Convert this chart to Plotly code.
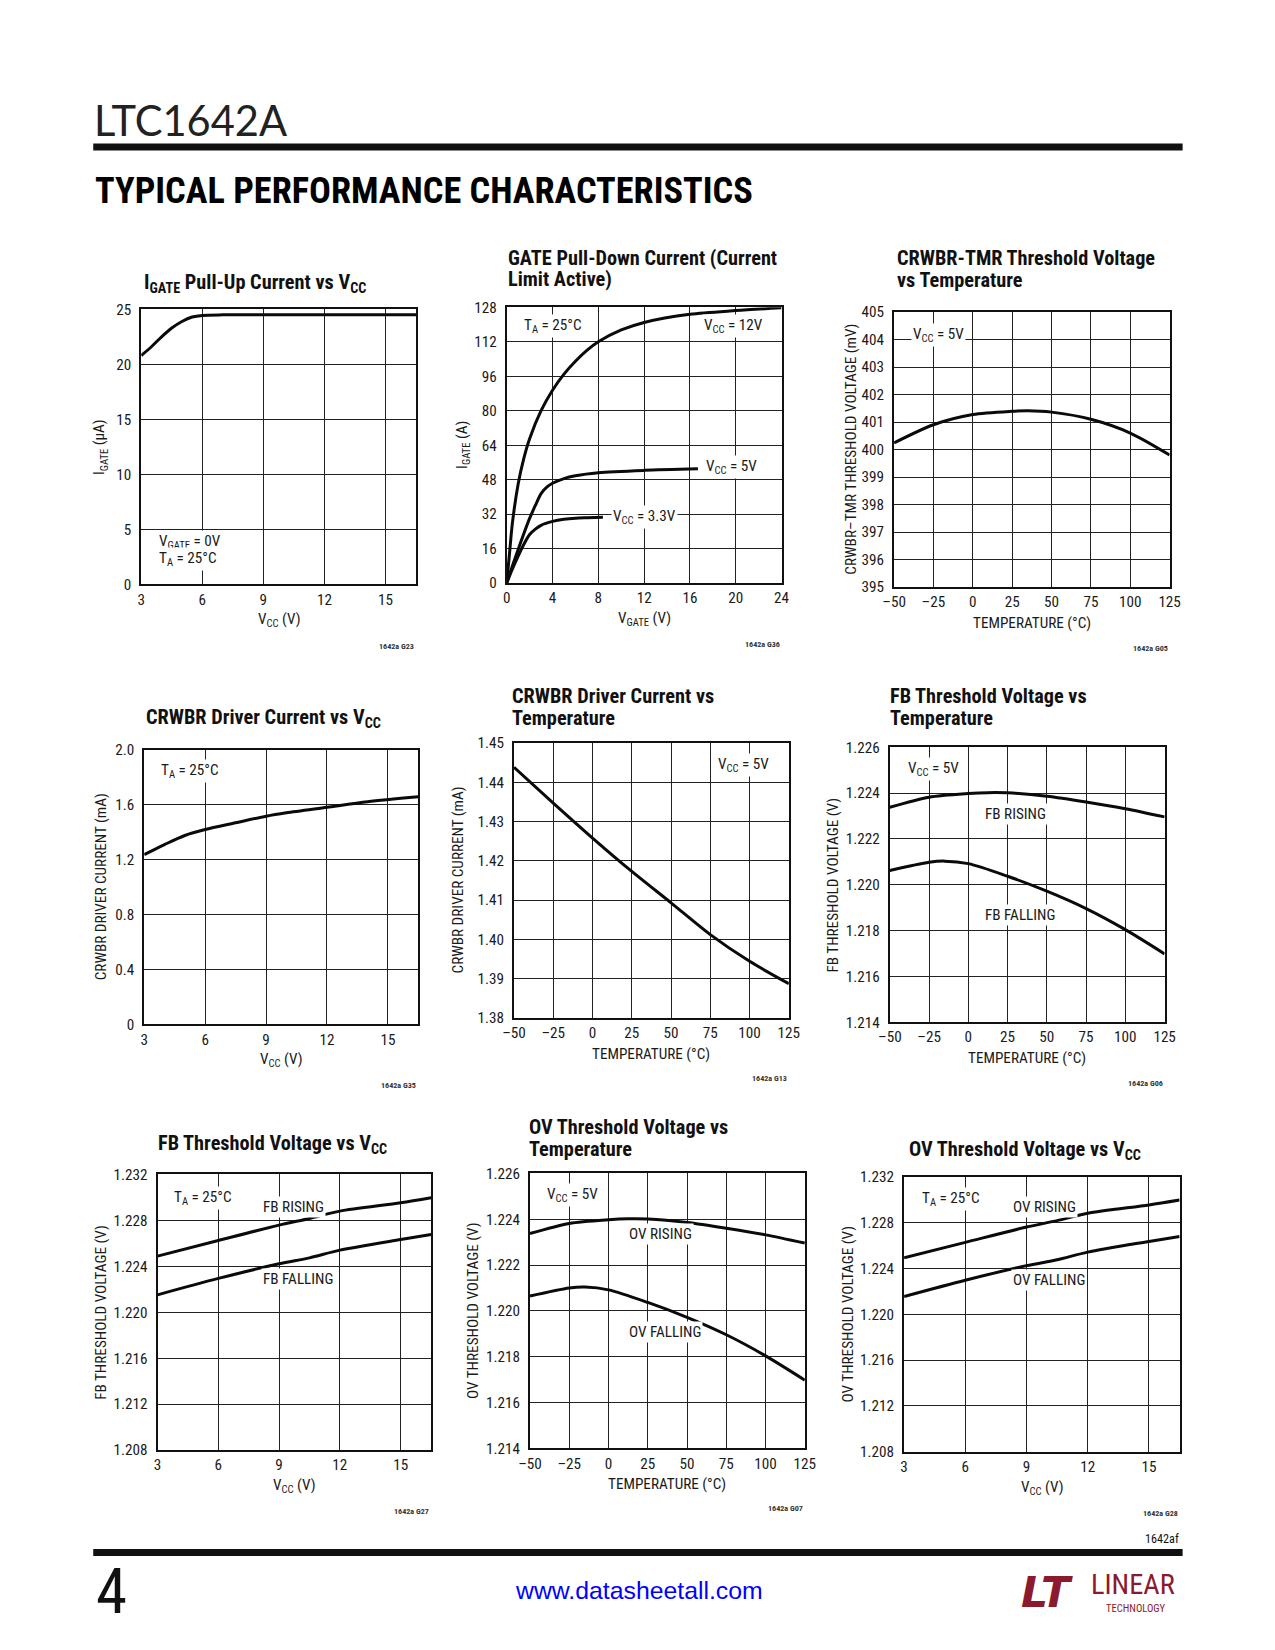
import plotly.graph_objects as go

# ---------------- DATA ----------------
# 1) IGATE pull-up current vs VCC
c1_vcc = [3, 3.5, 4, 4.5, 5, 5.5, 6, 7, 9, 12, 15, 16.5]
c1_igate = [20.8, 21.6, 22.5, 23.3, 23.9, 24.3, 24.45, 24.5, 24.5, 24.5, 24.5, 24.5]

# 2) GATE pull-down current
c2_vg_12 = [0, 0.25, 0.5, 1.0, 1.5, 2, 3, 4, 5, 6, 7, 8, 10, 12, 16, 20, 24]
c2_i_12 = [0, 14, 28, 46, 58, 67, 80, 89.5, 97, 103, 108, 112, 117.5, 121, 124.8, 126.5, 127.8]
c2_vg_5 = [0, 0.5, 1, 1.5, 2, 2.5, 3, 3.5, 4, 5, 6, 8, 12, 16.7]
c2_i_5 = [0, 8, 15.5, 23, 30, 36, 41.5, 44.5, 46.3, 48.5, 49.8, 51.2, 52.3, 53]
c2_vg_33 = [0, 0.5, 1, 1.5, 2, 2.5, 3, 4, 5, 6, 7, 8.4]
c2_i_33 = [0, 6.5, 12.5, 18, 22.5, 25, 26.8, 28.6, 29.6, 30.1, 30.3, 30.5]

# 3) CRWBR-TMR threshold vs temperature
c3_temp = [-50, -25, 0, 25, 35, 50, 75, 100, 125]
c3_mv = [400.24, 400.9, 401.27, 401.39, 401.41, 401.36, 401.1, 400.6, 399.8]

# 4) CRWBR driver current vs VCC
c4_vcc = [3, 4, 5, 6, 7.5, 9, 10, 12, 14, 16.5]
c4_ma = [1.236, 1.309, 1.375, 1.418, 1.467, 1.515, 1.54, 1.58, 1.62, 1.656]

# 5) CRWBR driver current vs temperature
c5_temp = [-50, -25, 0, 25, 50, 75, 100, 125]
c5_ma = [1.4438, 1.4347, 1.4258, 1.4173, 1.4093, 1.4012, 1.3944, 1.3887]

# 6) FB threshold vs temperature
c6_temp_r = [-50, -25, 0, 12.5, 25, 50, 75, 100, 125]
c6_rise = [1.22338, 1.22382, 1.22398, 1.22402, 1.22401, 1.22386, 1.22361, 1.22332, 1.22296]
c6_temp_f = [-50, -25, -15, 0, 25, 50, 75, 100, 125]
c6_fall = [1.22062, 1.22098, 1.22103, 1.22092, 1.22037, 1.21972, 1.21896, 1.21804, 1.21698]

# 7) FB threshold vs VCC
c7_vcc = [3, 6, 9, 10.5, 12, 15, 16.5]
c7_rise = [1.22489, 1.22625, 1.22759, 1.22817, 1.22881, 1.22953, 1.22997]
c7_fall = [1.22152, 1.22295, 1.22422, 1.22474, 1.22541, 1.22634, 1.22678]

# 8) OV threshold vs temperature
c8_temp_r = [-50, -25, 0, 12.5, 25, 50, 75, 100, 125]
c8_rise = [1.22338, 1.22382, 1.22398, 1.22402, 1.22401, 1.22386, 1.22361, 1.22332, 1.22296]
c8_temp_f = [-50, -25, -15, 0, 25, 50, 75, 100, 125]
c8_fall = [1.22065, 1.22100, 1.22104, 1.22092, 1.22037, 1.21972, 1.21896, 1.21804, 1.21698]

# 9) OV threshold vs VCC
c9_vcc = [3, 6, 9, 10.5, 12, 15, 16.5]
c9_rise = [1.22493, 1.22628, 1.22762, 1.22818, 1.22882, 1.22955, 1.22998]
c9_fall = [1.22156, 1.22298, 1.22425, 1.22476, 1.22543, 1.22636, 1.22680]

# tick labels
vcc_ticks = [3, 6, 9, 12, 15]
vcc_ticktext = ["3", "6", "9", "12", "15"]
temp_ticks = [-50, -25, 0, 25, 50, 75, 100, 125]
temp_ticktext = ["\u201350", "\u201325", "0", "25", "50", "75", "100", "125"]
vgate_ticks = [0, 4, 8, 12, 16, 20, 24]
c1_yticks = [0, 5, 10, 15, 20, 25]
c2_yticks = [0, 16, 32, 48, 64, 80, 96, 112, 128]
c3_yticks = [395, 396, 397, 398, 399, 400, 401, 402, 403, 404, 405]
c4_yticks = [0, 0.4, 0.8, 1.2, 1.6, 2.0]
c4_yticktext = ["0", "0.4", "0.8", "1.2", "1.6", "2.0"]
c5_yticks = [1.38, 1.39, 1.40, 1.41, 1.42, 1.43, 1.44, 1.45]
c5_yticktext = ["1.38", "1.39", "1.40", "1.41", "1.42", "1.43", "1.44", "1.45"]
c6_yticks = [1.214, 1.216, 1.218, 1.220, 1.222, 1.224, 1.226]
c6_yticktext = ["1.214", "1.216", "1.218", "1.220", "1.222", "1.224", "1.226"]
c7_yticks = [1.208, 1.212, 1.216, 1.220, 1.224, 1.228, 1.232]
c7_yticktext = ["1.208", "1.212", "1.216", "1.220", "1.224", "1.228", "1.232"]

# ---------------- LAYOUT HELPERS ----------------
PAGE_W, PAGE_H = 1275, 1650
MARGIN = 8                      # default body margin of the page
W, H = PAGE_W - 2 * MARGIN, PAGE_H - 2 * MARGIN
# measured mapping page-pixel -> photographed pixel (compensated below)
AX, BX = 0.9823, 11.85
AY, BY = 0.9892, 7.67
FS = 1.014                      # font compensation
FONT = ("Noto Sans ExtraCondensed, Noto Sans Condensed, Roboto Condensed, "
        "Liberation Sans Narrow, Arial Narrow, Roboto, sans-serif")
INK = "#1a1a1a"


def px(x):
    return ((x - BX) / AX - MARGIN) / W


def py(y):
    return 1 - ((y - BY) / AY - MARGIN) / H


def fs(s):
    return round(s * FS, 1)


charts = [
    dict(box=(141, 308, 416, 583), xr=[3, 16.5], xt=vcc_ticks, xtt=vcc_ticktext,
         yr=[0, 25], yt=c1_yticks, ytt=[str(v) for v in c1_yticks],
         series=[(c1_vcc, c1_igate)],
         title=["I<sub>GATE</sub> Pull-Up Current vs V<sub>CC</sub>"], tx=142, ty=[282],
         xtitle="V<sub>CC</sub> (V)", ytitle="I<sub>GATE</sub> (\u00b5A)", yoff=41,
         labels=[("V<sub>GATE</sub> = 0V", 157, 541), ("T<sub>A</sub> = 25\u00b0C", 157, 558)],
         code="1642a G23", cy=645),
    dict(box=(506.7, 306, 781.7, 581.7), xr=[0, 24], xt=vgate_ticks, xtt=[str(v) for v in vgate_ticks],
         yr=[0, 128], yt=c2_yticks, ytt=[str(v) for v in c2_yticks],
         series=[(c2_vg_12, c2_i_12), (c2_vg_5, c2_i_5), (c2_vg_33, c2_i_33)],
         title=["GATE Pull-Down Current (Current", "Limit Active)"], tx=506, ty=[256.5, 278],
         xtitle="V<sub>GATE</sub> (V)", ytitle="I<sub>GATE</sub> (A)", yoff=44,
         labels=[("T<sub>A</sub> = 25\u00b0C", 522, 325), ("V<sub>CC</sub> = 12V", 702, 325),
                 ("V<sub>CC</sub> = 5V", 704, 466), ("V<sub>CC</sub> = 3.3V", 611, 516)],
         code="1642a G36", cy=643),
    dict(box=(894.3, 310.7, 1170, 585.7), xr=[-50, 125], xt=temp_ticks, xtt=temp_ticktext,
         yr=[395, 405], yt=c3_yticks, ytt=[str(v) for v in c3_yticks],
         series=[(c3_temp, c3_mv)],
         title=["CRWBR-TMR Threshold Voltage", "vs Temperature"], tx=895, ty=[256.5, 279],
         xtitle="TEMPERATURE (\u00b0C)", ytitle="CRWBR\u2013TMR THRESHOLD VOLTAGE (mV)", yoff=44,
         labels=[("V<sub>CC</sub> = 5V", 911, 334)],
         code="1642a G05", cy=647),
    dict(box=(144, 748.3, 418.3, 1023.3), xr=[3, 16.5], xt=vcc_ticks, xtt=vcc_ticktext,
         yr=[0, 2.0], yt=c4_yticks, ytt=c4_yticktext,
         series=[(c4_vcc, c4_ma)],
         title=["CRWBR Driver Current vs V<sub>CC</sub>"], tx=144, ty=[717],
         xtitle="V<sub>CC</sub> (V)", ytitle="CRWBR DRIVER CURRENT (mA)", yoff=43,
         labels=[("T<sub>A</sub> = 25\u00b0C", 159, 770)],
         code="1642a G35", cy=1084),
    dict(box=(514, 741.7, 789, 1016.7), xr=[-50, 125], xt=temp_ticks, xtt=temp_ticktext,
         yr=[1.38, 1.45], yt=c5_yticks, ytt=c5_yticktext,
         series=[(c5_temp, c5_ma)],
         title=["CRWBR Driver Current vs", "Temperature"], tx=510, ty=[695, 717],
         xtitle="TEMPERATURE (\u00b0C)", ytitle="CRWBR DRIVER CURRENT (mA)", yoff=56,
         labels=[("V<sub>CC</sub> = 5V", 716, 764)],
         code="1642a G13", cy=1077),
    dict(box=(890, 746, 1165, 1021), xr=[-50, 125], xt=temp_ticks, xtt=temp_ticktext,
         yr=[1.214, 1.226], yt=c6_yticks, ytt=c6_yticktext,
         series=[(c6_temp_r, c6_rise), (c6_temp_f, c6_fall)],
         title=["FB Threshold Voltage vs", "Temperature"], tx=888, ty=[695, 717],
         xtitle="TEMPERATURE (\u00b0C)", ytitle="FB THRESHOLD VOLTAGE (V)", yoff=57,
         labels=[("V<sub>CC</sub> = 5V", 906, 768), ("FB RISING", 983, 813), ("FB FALLING", 983, 914)],
         code="1642a G06", cy=1082),
    dict(box=(157.3, 1173.3, 431, 1449), xr=[3, 16.5], xt=vcc_ticks, xtt=vcc_ticktext,
         yr=[1.208, 1.232], yt=c7_yticks, ytt=c7_yticktext,
         series=[(c7_vcc, c7_rise), (c7_vcc, c7_fall)],
         title=["FB Threshold Voltage vs V<sub>CC</sub>"], tx=156, ty=[1143],
         xtitle="V<sub>CC</sub> (V)", ytitle="FB THRESHOLD VOLTAGE (V)", yoff=56,
         labels=[("T<sub>A</sub> = 25\u00b0C", 172, 1197), ("FB RISING", 261, 1205.5), ("FB FALLING", 261, 1278)],
         code="1642a G27", cy=1510),
    dict(box=(530, 1172.3, 805, 1447.3), xr=[-50, 125], xt=temp_ticks, xtt=temp_ticktext,
         yr=[1.214, 1.226], yt=c6_yticks, ytt=c6_yticktext,
         series=[(c8_temp_r, c8_rise), (c8_temp_f, c8_fall)],
         title=["OV Threshold Voltage vs", "Temperature"], tx=527, ty=[1126, 1148],
         xtitle="TEMPERATURE (\u00b0C)", ytitle="OV THRESHOLD VOLTAGE (V)", yoff=57,
         labels=[("V<sub>CC</sub> = 5V", 545, 1194), ("OV RISING", 627, 1233), ("OV FALLING", 627, 1331)],
         code="1642a G07", cy=1507),
    dict(box=(904.3, 1175.7, 1180, 1450.7), xr=[3, 16.5], xt=vcc_ticks, xtt=vcc_ticktext,
         yr=[1.208, 1.232], yt=c7_yticks, ytt=c7_yticktext,
         series=[(c9_vcc, c9_rise), (c9_vcc, c9_fall)],
         title=["OV Threshold Voltage vs V<sub>CC</sub>"], tx=907, ty=[1149],
         xtitle="V<sub>CC</sub> (V)", ytitle="OV THRESHOLD VOLTAGE (V)", yoff=56,
         labels=[("T<sub>A</sub> = 25\u00b0C", 920, 1198), ("OV RISING", 1011, 1206), ("OV FALLING", 1011, 1279)],
         code="1642a G28", cy=1512),
]

fig = go.Figure()
annotations = []
shapes = []
layout_axes = {}

TICKF = dict(family=FONT, size=fs(15), color=INK)

for i, ch in enumerate(charts):
    n = "" if i == 0 else str(i + 1)
    x0, y0, x1, y1 = ch["box"]
    xa = dict(domain=[px(x0), px(x1)], range=ch["xr"], tickmode="array",
              tickvals=ch["xt"], ticktext=ch["xtt"], showgrid=True, gridcolor="#222",
              gridwidth=1.2, showline=True, mirror=True, linecolor="#111", linewidth=2,
              ticks="", tickfont=TICKF,
              zeroline=False, anchor="y" + n, fixedrange=True)
    ya = dict(domain=[py(y1), py(y0)], range=ch["yr"], tickmode="array",
              tickvals=ch["yt"], ticktext=ch["ytt"], showgrid=True, gridcolor="#222",
              gridwidth=1.2, showline=True, mirror=True, linecolor="#111", linewidth=2,
              ticks="outside", ticklen=5, tickcolor="rgba(0,0,0,0)", tickfont=TICKF,
              zeroline=False, anchor="x" + n, fixedrange=True)
    layout_axes["xaxis" + n] = xa
    layout_axes["yaxis" + n] = ya

    for xs, ys in ch["series"]:
        fig.add_trace(go.Scatter(x=xs, y=ys, mode="lines", xaxis="x" + n, yaxis="y" + n,
                                 line=dict(color="#0a0a0a", width=3, shape="spline", smoothing=0.8),
                                 showlegend=False, hoverinfo="skip", cliponaxis=True))

    # title lines
    for line, ty in zip(ch["title"], ch["ty"]):
        annotations.append(dict(text="<b>" + line + "</b>", x=px(ch["tx"]), y=py(ty),
                                xref="paper", yref="paper", xanchor="left", yanchor="middle",
                                showarrow=False, font=dict(family=FONT, size=fs(20), color="#111")))
    # axis titles
    annotations.append(dict(text=ch["xtitle"], x=px((x0 + x1) / 2), y=py(y1 + 36),
                            xref="paper", yref="paper", xanchor="center", yanchor="middle",
                            showarrow=False, font=dict(family=FONT, size=fs(15), color=INK)))
    annotations.append(dict(text=ch["ytitle"], x=px(x0 - ch["yoff"]), y=py((y0 + y1) / 2),
                            xref="paper", yref="paper", xanchor="center", yanchor="middle",
                            textangle=-90, showarrow=False,
                            font=dict(family=FONT, size=fs(15), color=INK)))
    # in-plot labels
    for txt, lx, ly in ch["labels"]:
        annotations.append(dict(text=txt, x=px(lx), y=py(ly), xref="paper", yref="paper",
                                xanchor="left", yanchor="middle", showarrow=False,
                                bgcolor="white", borderpad=1,
                                font=dict(family=FONT, size=fs(15), color=INK)))
    # figure code
    annotations.append(dict(text="<b>" + ch["code"] + "</b>", x=px(x1), y=py(ch["cy"]),
                            xref="paper", yref="paper", xanchor="right", yanchor="middle",
                            showarrow=False, font=dict(family=FONT, size=fs(8), color="#333")))

# page header / footer
annotations += [
    dict(text="LTC1642A", x=px(92), y=py(118.5), xref="paper", yref="paper",
         xanchor="left", yanchor="middle", showarrow=False,
         font=dict(family="Lato, Noto Sans, sans-serif", size=fs(41), color="#222")),
    dict(text="<b>TYPICAL PERFORMANCE CHARACTERISTICS</b>", x=px(93), y=py(189.5),
         xref="paper", yref="paper", xanchor="left", yanchor="middle", showarrow=False,
         font=dict(family=FONT, size=36.3, color="#000")),
    dict(text="1642af", x=px(1181), y=py(1538), xref="paper", yref="paper",
         xanchor="right", yanchor="middle", showarrow=False,
         font=dict(family=FONT, size=fs(12), color="#111")),
    dict(text="4", x=px(94), y=py(1590), xref="paper", yref="paper",
         xanchor="left", yanchor="middle", showarrow=False,
         font=dict(family=FONT, size=fs(62), color="#111")),
    dict(text="www.datasheetall.com", x=px(639), y=py(1589), xref="paper", yref="paper",
         xanchor="center", yanchor="middle", showarrow=False,
         font=dict(family="Liberation Sans, Arial, sans-serif", size=fs(24.5), color="#0000ff")),
    dict(text="<b><i>LT</i></b>", x=px(1047), y=py(1591), xref="paper", yref="paper",
         xanchor="center", yanchor="middle", showarrow=False,
         font=dict(family="DejaVu Sans, sans-serif", size=fs(42), color="#8b1a2e")),
    dict(text="LINEAR", x=px(1133), y=py(1583), xref="paper", yref="paper",
         xanchor="center", yanchor="middle", showarrow=False,
         font=dict(family=FONT, size=fs(28), color="#8b1a2e")),
    dict(text="TECHNOLOGY", x=px(1136), y=py(1607), xref="paper", yref="paper",
         xanchor="center", yanchor="middle", showarrow=False,
         font=dict(family=FONT, size=fs(10.5), color="#8b1a2e")),
]

shapes += [
    dict(type="rect", xref="paper", yref="paper", x0=px(93), x1=px(1183), y0=py(149), y1=py(142),
         fillcolor="#111", line=dict(width=0)),
    dict(type="rect", xref="paper", yref="paper", x0=px(93), x1=px(1183), y0=py(1555), y1=py(1548),
         fillcolor="#111", line=dict(width=0)),
]

fig.update_layout(
    width=W, height=H, margin=dict(l=0, r=0, t=0, b=0),
    paper_bgcolor="white", plot_bgcolor="white",
    annotations=annotations, shapes=shapes, showlegend=False,
    **layout_axes,
)

fig.write_html("out.html", config={"displayModeBar": False})
